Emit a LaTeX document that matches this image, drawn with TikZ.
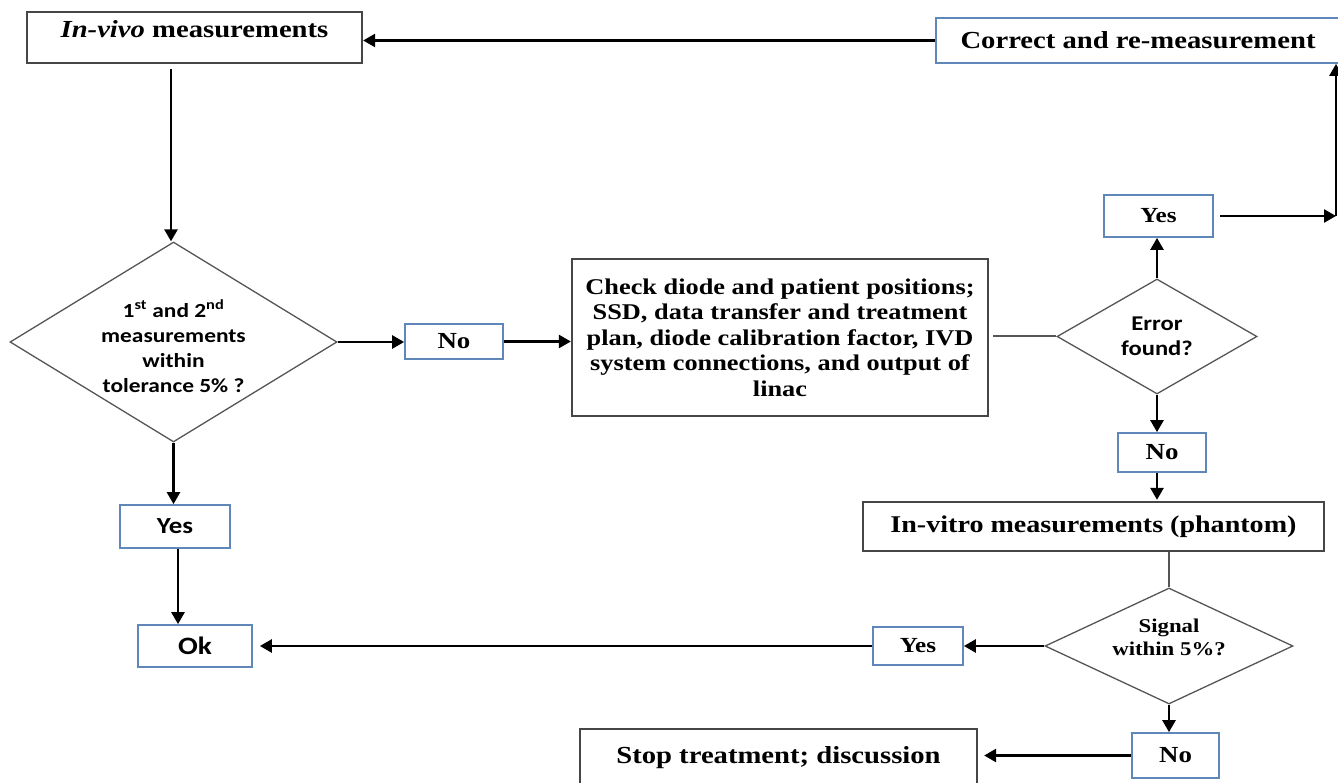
\documentclass[tikz,border=0pt]{standalone}
\usepackage{fontspec}
\setmainfont{Liberation Serif}[FakeStretch=1.17]
\newfontfamily\sansf{Carlito}[FakeStretch=1.17]
\usetikzlibrary{shapes.geometric,arrows.meta}
\definecolor{boxblue}{RGB}{95,135,185}
\definecolor{boxdark}{RGB}{70,70,70}
\definecolor{diagray}{RGB}{85,85,85}
\tikzset{
  bluebox/.style={draw=boxblue, line width=1.7pt, fill=white, inner sep=0pt, align=center},
  darkbox/.style={draw=boxdark, line width=2.3pt, fill=white, inner sep=0pt, align=center},
  dia/.style={diamond, draw=diagray, line width=1.3pt, inner sep=0pt, align=center},
  conn/.style={line width=2.5pt, -{Triangle[length=12pt,width=13pt]}},
  plain/.style={line width=2pt, draw=diagray},
  serifb/.style={font=\fontsize{23}{27}\selectfont\bfseries},
  sansb/.style={font=\fontsize{20}{25}\selectfont\sansf\bfseries},
}
\begin{document}
\begin{tikzpicture}[x=1pt,y=-1pt]
\useasboundingbox (0,0) rectangle (1338,783);
\clip (0,0) rectangle (1338,783);
% boxes
\node[darkbox, minimum width=335pt, minimum height=51pt, text height=15pt, text depth=15pt,
      font=\fontsize{24.5}{28}\selectfont\bfseries] (invivo) at (194.5,37.5) {\textit{In-vivo} measurements};
\node[bluebox, minimum width=404pt, minimum height=45pt,
      font=\fontsize{24.5}{28}\selectfont\bfseries] (correct) at (1138,40.5) {Correct and re-measurement};
\node[dia, minimum width=327pt, minimum height=200pt, aspect=1.635, sansb] (d1) at (173.5,342)
      {\rule{0pt}{26pt}1\textsuperscript{st} and 2\textsuperscript{nd}\\measurements\\within\\tolerance 5\% ?};
\node[bluebox, minimum width=98pt, minimum height=35pt, serifb] (no1) at (454,341.5) {No};
\node[darkbox, minimum width=416pt, minimum height=157pt,
      font=\fontsize{22.5}{25.5}\selectfont\bfseries] (check) at (780,337.5)
      {Check diode and patient positions;\\SSD, data transfer and treatment\\plan, diode calibration factor, IVD\\system connections, and output of\\linac};
\node[dia, minimum width=200pt, minimum height=115pt, aspect=1.74,
      font=\fontsize{21}{25}\selectfont\sansf\bfseries] (d2) at (1157,336.5) {Error\\found?};
\node[bluebox, minimum width=109pt, minimum height=42pt,
      font=\fontsize{21.5}{25}\selectfont\bfseries] (yes2) at (1158.5,216) {Yes};
\coordinate (c1) at (1336,216);
\node[bluebox, minimum width=88pt, minimum height=39pt, serifb] (no2) at (1162,452.5) {No};
\node[darkbox, minimum width=461pt, minimum height=49pt,
      font=\fontsize{24}{28}\selectfont\bfseries] (invitro) at (1093.5,526.5) {In-vitro measurements (phantom)};
\node[dia, minimum width=248pt, minimum height=116pt, aspect=2.14,
      font=\fontsize{19.5}{23}\selectfont\bfseries] (d3) at (1169,646) {Signal\\within 5\%?\\[-6pt]};
\node[bluebox, minimum width=110pt, minimum height=43pt,
      font=\fontsize{23}{27}\selectfont\sansf\bfseries] (yes1) at (175,526.5) {Yes};
\node[bluebox, minimum width=114pt, minimum height=42pt,
      font=\fontsize{25}{29}\selectfont\sansf\bfseries] (ok) at (195,646) {Ok};
\node[bluebox, minimum width=90pt, minimum height=38pt,
      font=\fontsize{21.5}{25}\selectfont\bfseries] (yes3) at (918,646) {Yes};
\node[darkbox, minimum width=397pt, minimum height=58pt,
      font=\fontsize{24.5}{28}\selectfont\bfseries] (stop) at (778.5,758) {Stop treatment; discussion};
\node[bluebox, minimum width=87pt, minimum height=45pt, serifb] (no3) at (1175.5,755.5) {No};
% connectors
\draw[conn] (correct.west) -- (invivo.east |- correct.west);
\draw[conn, shorten <=5pt] (invivo.south -| 171,0) -- (d1.north -| 171,0);
\draw[conn] (d1.east) -- (no1.west |- d1.east);
\draw[conn] (no1.east) -- (check.west |- no1.east);
\draw[plain, shorten <=4pt] (check.east |- d2.west) -- (d2.west);
\draw[conn] (d2.north) -- (yes2.south -| d2.north);
\draw[conn, shorten <=6pt] (yes2.east) -- (c1);
\draw[conn] (c1) -- (c1 |- correct.south);
\draw[conn] (d2.south) -- (no2.north -| d2.south);
\draw[conn, shorten >=1pt] (no2.south -| d2.south) -- (invitro.north -| d2.south);
\draw[plain] (invitro.south -| d3.north) -- (d3.north);
\draw[conn] (d3.west) -- (yes3.east);
\draw[conn, shorten >=7pt] (yes3.west) -- (ok.east);
\draw[conn] (d3.south) -- (no3.north -| d3.south);
\draw[conn, shorten >=6pt] (no3.west) -- (stop.east |- no3.west);
\draw[conn] (d1.south) -- (yes1.north -| d1.south);
\draw[conn] (yes1.south -| 178,0) -- (ok.north -| 178,0);
\end{tikzpicture}
\end{document}
